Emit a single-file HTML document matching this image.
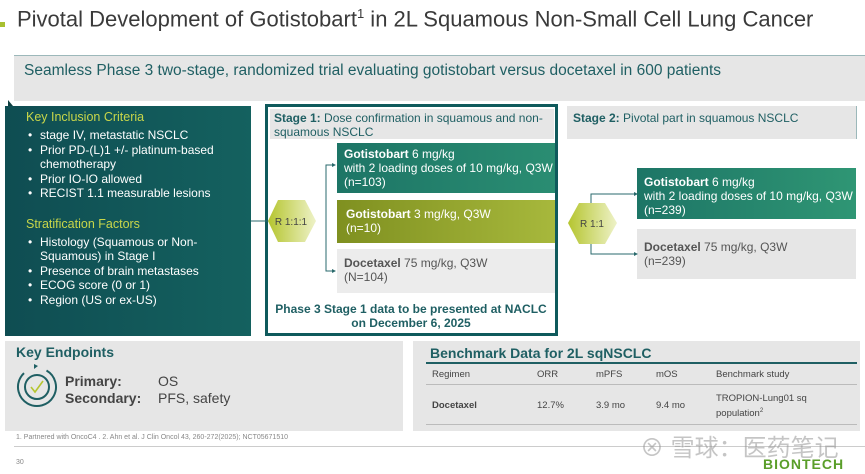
<!DOCTYPE html>
<html><head><meta charset="utf-8"><style>
body{margin:0;width:865px;height:474px;background:#fff;position:relative;overflow:hidden;font-family:"Liberation Sans",Arial,sans-serif;color:#333}
.a{position:absolute}
.t{font-size:12px;line-height:14px}
ul{margin:0;padding:0;list-style:none}
li{position:relative;padding-left:14px;font-size:12px;line-height:14.5px;color:#fff}
li:before{content:"•";position:absolute;left:2px}
</style></head><body>
<div class="a" style="left:0;top:22px;width:5px;height:5px;background:#a8c030"></div>
<div class="a" style="left:17px;top:6px;font-size:22px;color:#3a3a3a;white-space:nowrap">Pivotal Development of Gotistobart<sup style="font-size:13px">1</sup> in 2L Squamous Non-Small Cell Lung Cancer</div>

<div class="a" style="left:14px;top:55px;width:851px;height:45px;background:#e6e6e6;border-top:1px solid #9cb8ba"></div>
<div class="a" style="left:24px;top:62px;font-size:15.5px;color:#1f5f63;white-space:nowrap">Seamless Phase 3 two-stage, randomized trial evaluating gotistobart versus docetaxel in 600 patients</div>

<div class="a" style="left:8px;top:100px;width:0;height:0;border-left:5px solid #0f3f40;border-top:6px solid transparent"></div>
<div class="a" style="left:5px;top:106px;width:246px;height:230px;background:linear-gradient(90deg,#0f4d52,#14615f)"></div>
<div class="a" style="left:26px;top:110px;width:220px">
<div style="color:#c8d64a;font-size:12.5px;margin-bottom:4px">Key Inclusion Criteria</div>
<ul><li>stage IV, metastatic NSCLC</li><li>Prior PD-(L)1 +/- platinum-based chemotherapy</li><li>Prior IO-IO allowed</li><li>RECIST 1.1 measurable lesions</li></ul>
<div style="color:#c8d64a;font-size:12.5px;margin:16px 0 4px">Stratification Factors</div>
<ul><li>Histology (Squamous or Non-Squamous) in Stage I</li><li>Presence of brain metastases</li><li>ECOG score (0 or 1)</li><li>Region (US or ex-US)</li></ul>
</div>

<div class="a" style="left:265px;top:104px;width:287px;height:226px;border:3px solid #0f5a5c"></div>
<div class="a" style="left:270px;top:109px;width:284px;height:30px;background:#e6e6e6"></div>
<div class="a t" style="left:274px;top:111px;width:275px;color:#1f5f63"><b>Stage 1:</b> Dose confirmation in squamous and non-squamous NSCLC</div>
<div class="a" style="left:337px;top:143px;width:218px;height:50px;background:linear-gradient(90deg,#1d7566,#2a8d72)"></div>
<div class="a t" style="left:344px;top:147px;color:#fff;white-space:nowrap"><b>Gotistobart</b> 6 mg/kg<br>with 2 loading doses of 10 mg/kg, Q3W<br>(n=103)</div>
<div class="a" style="left:337px;top:200px;width:218px;height:43px;background:linear-gradient(90deg,#7f9020,#a7b83c)"></div>
<div class="a t" style="left:346px;top:207px;color:#fff"><b>Gotistobart</b> 3 mg/kg, Q3W<br>(n=10)</div>
<div class="a" style="left:337px;top:249px;width:218px;height:44px;background:#ececec"></div>
<div class="a t" style="left:344px;top:256px;color:#555"><b>Docetaxel</b> 75 mg/kg, Q3W<br>(N=104)</div>
<div class="a" style="left:270px;top:302px;width:282px;text-align:center;font-size:12px;line-height:14px;font-weight:bold;color:#1f5f63">Phase 3 Stage 1 data to be presented at NACLC<br>on December 6, 2025</div>

<div class="a" style="left:567px;top:106px;width:289px;height:33px;background:#e6e6e6;border-right:1px solid #9cb8ba"></div>
<div class="a t" style="left:573px;top:111px;color:#1f5f63"><b>Stage 2:</b> Pivotal part in squamous NSCLC</div>
<div class="a" style="left:637px;top:168px;width:219px;height:51px;background:linear-gradient(90deg,#1d7566,#2f9674)"></div>
<div class="a t" style="left:644px;top:175px;color:#fff;white-space:nowrap"><b>Gotistobart</b> 6 mg/kg<br>with 2 loading doses of 10 mg/kg, Q3W<br>(n=239)</div>
<div class="a" style="left:637px;top:229px;width:219px;height:50px;background:#e6e6e6"></div>
<div class="a t" style="left:644px;top:240px;color:#555"><b>Docetaxel</b> 75 mg/kg, Q3W<br>(n=239)</div>

<div class="a" style="left:5px;top:341px;width:398px;height:90px;background:#e6e6e6"></div>
<div class="a" style="left:16px;top:344px;font-size:14px;font-weight:bold;color:#1f5f63">Key Endpoints</div>
<div class="a" style="left:65px;top:373px;font-size:14px;line-height:17px;color:#444"><b>Primary:</b><br><b>Secondary:</b></div>
<div class="a" style="left:158px;top:373px;font-size:14px;line-height:17px;color:#444">OS<br>PFS, safety</div>

<div class="a" style="left:413px;top:341px;width:447px;height:90px;background:#e6e6e6"></div>
<div class="a" style="left:430px;top:345px;font-size:14px;font-weight:bold;color:#1f5f63">Benchmark Data for 2L sqNSCLC</div>
<div class="a" style="left:426px;top:362px;width:431px;height:1.5px;background:#1f5f63"></div>
<div class="a" style="left:426px;top:384px;width:431px;height:1px;background:#bbb"></div>
<div class="a" style="left:426px;top:424px;width:431px;height:1px;background:#bbb"></div>
<div class="a" style="left:432px;top:369px;font-size:9.5px;color:#444">Regimen</div>
<div class="a" style="left:537px;top:369px;font-size:9.5px;color:#444">ORR</div>
<div class="a" style="left:596px;top:369px;font-size:9.5px;color:#444">mPFS</div>
<div class="a" style="left:656px;top:369px;font-size:9.5px;color:#444">mOS</div>
<div class="a" style="left:716px;top:369px;font-size:9.5px;color:#444">Benchmark study</div>
<div class="a" style="left:432px;top:400px;font-size:9.5px;font-weight:bold;color:#444">Docetaxel</div>
<div class="a" style="left:537px;top:400px;font-size:9.5px;color:#444">12.7%</div>
<div class="a" style="left:596px;top:400px;font-size:9.5px;color:#444">3.9 mo</div>
<div class="a" style="left:656px;top:400px;font-size:9.5px;color:#444">9.4 mo</div>
<div class="a" style="left:716px;top:393px;font-size:9.5px;line-height:12px;color:#444">TROPION-Lung01 sq<br>population<sup style="font-size:6px">2</sup></div>

<svg class="a" style="left:0;top:0" width="865" height="474">
<defs><linearGradient id="h" x1="0" x2="1"><stop offset="0" stop-color="#b5c52f"/><stop offset="1" stop-color="#eef2c8"/></linearGradient></defs>
<line x1="251" y1="221" x2="270" y2="221" stroke="#2a6a6c" stroke-width="1"/>
<polygon points="278,200 305,200 316,221 305,242 278,242 268,221" fill="url(#h)"/>
<text x="291" y="225" font-size="10" text-anchor="middle" fill="#444" font-family="Liberation Sans">R 1:1:1</text>
<polyline points="334,165 326,165 326,271 334,271" fill="none" stroke="#2a6a6c"/>
<polygon points="336,165 332,163 332,167" fill="#2a6a6c"/><polygon points="336,271 332,269 332,273" fill="#2a6a6c"/>
<polygon points="579,203 605,203 617,223 605,244 579,244 568,223" fill="url(#h)"/>
<text x="592" y="227" font-size="10" text-anchor="middle" fill="#444" font-family="Liberation Sans">R 1:1</text>
<polyline points="591,203 591,194 636,194" fill="none" stroke="#2a6a6c"/>
<polyline points="591,244 591,254 636,254" fill="none" stroke="#2a6a6c"/>
<polygon points="638,194 634,192 634,196" fill="#2a6a6c"/><polygon points="638,254 634,252 634,256" fill="#2a6a6c"/>
<circle cx="37" cy="387" r="19" fill="none" stroke="#1f5f63" stroke-width="2" stroke-dasharray="95 25" transform="rotate(-60 37 387)"/>
<circle cx="37" cy="387" r="12" fill="none" stroke="#1f5f63" stroke-width="2"/>
<polyline points="31,387 35,392 43,381" fill="none" stroke="#b5c52f" stroke-width="1.6"/>
<polygon points="38,366 34,364 34,369" fill="#1f5f63"/>
</svg>

<div class="a" style="left:16px;top:434px;font-size:7px;color:#888">1. Partnered with OncoC4 . 2. Ahn et al. J Clin Oncol 43, 260-272(2025); NCT05671510</div>
<div class="a" style="left:14px;top:446px;width:851px;height:1px;background:#ccc"></div>
<div class="a" style="left:16px;top:459px;font-size:7px;color:#888">30</div>
<div class="a" style="left:640px;top:428px;font-size:24px;color:rgba(150,150,150,.55);font-family:'Liberation Sans','Noto Sans CJK SC',sans-serif;white-space:nowrap">⊗ 雪球：医药笔记</div>
<div class="a" style="left:763px;top:456px;font-size:14px;color:#5a9e2a;letter-spacing:1px;font-weight:bold">BIONTECH</div>
</body></html>
